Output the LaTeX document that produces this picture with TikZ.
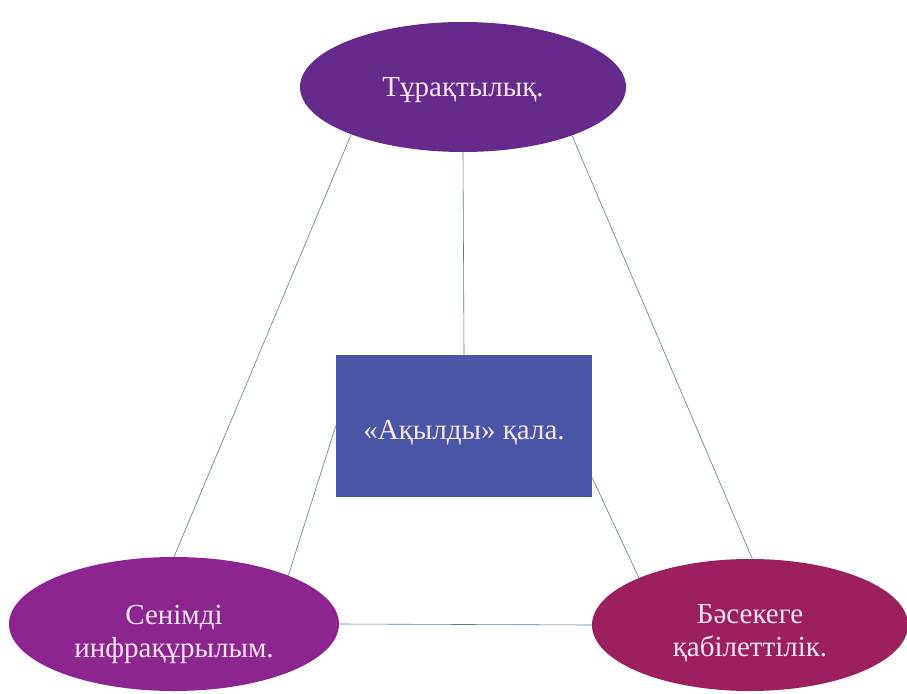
\documentclass[tikz,border=0pt]{standalone}
\usepackage{fontspec}
\setmainfont{Liberation Serif}
\usetikzlibrary{shapes.geometric}
\definecolor{cTop}{HTML}{652A8C}
\definecolor{cRect}{HTML}{4A55A6}
\definecolor{cBL}{HTML}{8D2591}
\definecolor{cBR}{HTML}{9C1F5E}
\definecolor{cLine}{HTML}{5A7A9A}
\definecolor{cText}{HTML}{F6E6F3}
\newcommand{\lowered}[2]{\raisebox{#1}[\height][\depth]{#2}}
\newcommand{\twolines}[3]{\lowered{#1}{\begin{tabular}{@{}c@{}}#2\\#3\end{tabular}}}
\tikzset{
  oval/.style={ellipse, draw=none, inner sep=0pt, text=cText, align=center,
    font=\fontsize{29}{33}\selectfont},
  box/.style={rectangle, draw=none, inner sep=0pt, text=cText,
    font=\fontsize{29}{33}\selectfont},
  link/.style={draw=cLine, line width=0.6pt}
}
\begin{document}
\begin{tikzpicture}[x=1pt,y=-1pt]
\useasboundingbox (0,0) rectangle (907,693);
\node[oval, fill=cTop, minimum width=326pt, minimum height=130pt] (top) at (463,87) {\lowered{-3pt}{Тұрақтылық.}};
\node[box, fill=cRect, minimum width=256pt, minimum height=142pt] (mid) at (464,426) {\lowered{-7pt}{«Ақылды» қала.}};
\node[oval, fill=cBL, minimum width=330pt, minimum height=134pt] (bl) at (174,624) {\twolines{-10pt}{Сенімді}{инфрақұрылым.}};
\node[oval, fill=cBR, minimum width=316pt, minimum height=132pt] (br) at (750,625) {\twolines{-8pt}{Бәсекеге}{қабілеттілік.}};
\draw[link] (top.south) -- (mid.north);
\draw[link] (top.203) -- (bl.90);
\draw[link] (top.336) -- (br.88);
\draw[link] (mid.west) -- (bl.23);
\draw[link] (mid.-22) -- (br.157);
\draw[link] (bl.east) -- (br.west);
\end{tikzpicture}
\end{document}
